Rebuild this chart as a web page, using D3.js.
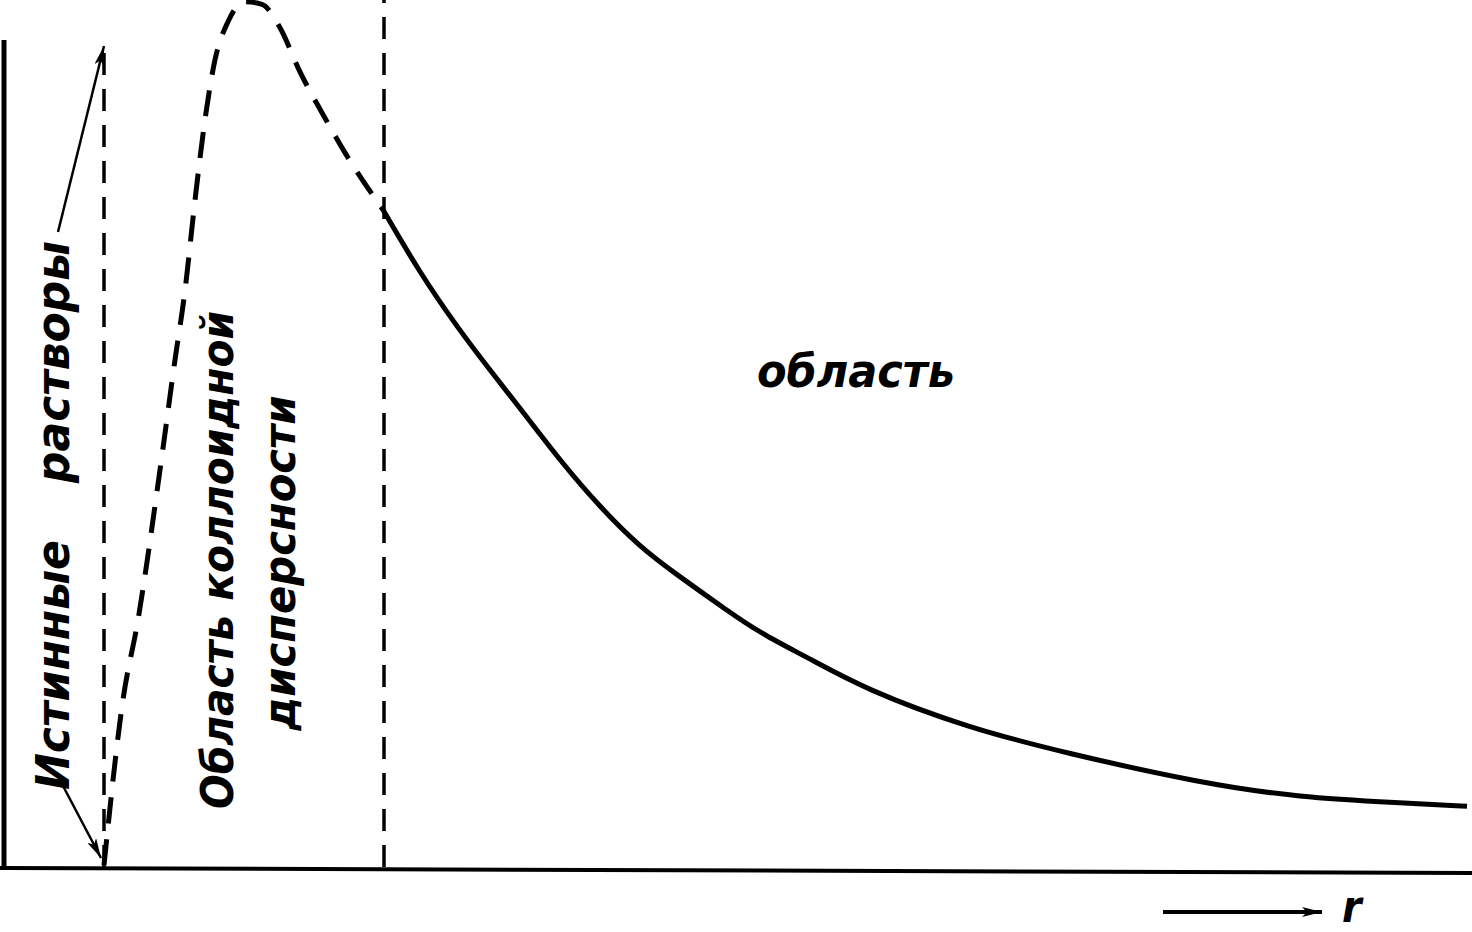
<!DOCTYPE html>
<html>
<head>
<meta charset="utf-8">
<script src="https://cdn.jsdelivr.net/npm/d3@7"></script>
<style>
  html, body { margin: 0; padding: 0; background: #fff; }
  svg { display: block; }
  .lbl { font-family: "DejaVu Sans Condensed", "DejaVu Sans", sans-serif; font-weight: bold; font-style: italic; fill: #000; }
</style>
</head>
<body>
<div id="chart"></div>
<script>
// curve: r (arbitrary units), relative value
const curveR = [0.99, 1.18, 1.33, 1.55, 1.70, 1.80, 1.90, 2.00, 2.10, 2.23, 2.40, 2.57, 2.75, 2.95, 3.17, 3.41, 3.78,
                4.15, 4.52, 4.85, 5.22, 5.55, 5.95, 6.35, 6.72, 7.22, 7.55, 8.02, 8.62, 9.62, 10.62, 11.95, 12.95, 13.95, 14.62];
const curveV = [0.002, 0.193, 0.285, 0.458, 0.585, 0.665, 0.769, 0.862, 0.931, 0.975, 0.998, 0.995, 0.968, 0.917, 0.870, 0.822, 0.758,
                0.685, 0.623, 0.573, 0.519, 0.469, 0.415, 0.369, 0.337, 0.296, 0.270, 0.242, 0.204, 0.161, 0.131, 0.097, 0.080, 0.074, 0.070];

// region boundaries (dashed verticals)
const boundaryR = [0.99, 3.79];
const boundaryTop = [0.948, 1.0];

const regionLabels = ['Истинные', 'растворы', 'Область коллоидной', 'дисперсности', 'область'];
const axisLabel = 'r';

const W = 1472, H = 932;
const svg = d3.select('#chart').append('svg').attr('width', W).attr('height', H);

const x = d3.scaleLinear().domain([0, 14.67]).range([5, 1472]);
const y = d3.scaleLinear().domain([0, 1]).range([867, 0]);

// arrow marker
const defs = svg.append('defs');
defs.append('marker')
    .attr('id', 'arr')
    .attr('viewBox', '0 0 20 10')
    .attr('refX', 20).attr('refY', 5)
    .attr('markerWidth', 20).attr('markerHeight', 10)
    .attr('markerUnits', 'userSpaceOnUse')
    .attr('orient', 'auto')
    .append('path')
    .attr('d', 'M0,0 L20,5 L0,10 L5,5 Z')
    .attr('fill', '#000');

// axes (frame lines only)
svg.append('line')
    .attr('x1', x(0) - 1).attr('x2', x(0) - 1)
    .attr('y1', y(0)).attr('y2', y(0.954))
    .attr('stroke', '#000').attr('stroke-width', 5);

svg.append('line')
    .attr('x1', 0).attr('x2', W)
    .attr('y1', y(0) + 1).attr('y2', y(0) + 6)
    .attr('stroke', '#000').attr('stroke-width', 4);

// dashed boundaries
svg.selectAll('.bound')
    .data(boundaryR)
    .enter()
    .append('line')
    .attr('class', 'bound')
    .attr('x1', d => x(d)).attr('x2', d => x(d))
    .attr('y1', y(0)).attr('y2', (d, i) => y(boundaryTop[i]))
    .attr('stroke', '#000')
    .attr('stroke-width', 3.5)
    .attr('stroke-dasharray', '22,14');

// curve: dashed inside the colloid region, solid beyond it
const pts = curveR.map((r, i) => ({ r, v: curveV[i] }));
const k = pts.findIndex(d => d.r >= boundaryR[1] - 0.02);
const dashedPts = pts.slice(0, k + 1);
const solidPts = pts.slice(k);

const line = d3.line()
    .x(d => x(d.r))
    .y(d => y(d.v))
    .curve(d3.curveMonotoneX);

// smoother for the long tail
const tail = d3.line()
    .x(d => x(d.r))
    .y(d => y(d.v))
    .curve(d3.curveBasis);

svg.append('path')
    .datum(dashedPts)
    .attr('d', line)
    .attr('fill', 'none')
    .attr('stroke', '#000')
    .attr('stroke-width', 5)
    .attr('stroke-dasharray', '26,16');

svg.append('path')
    .datum(solidPts)
    .attr('d', tail)
    .attr('fill', 'none')
    .attr('stroke', '#000')
    .attr('stroke-width', 5);

// rotated labels
function vlabel(text, cx, cy, len, size) {
    svg.append('text')
        .attr('class', 'lbl')
        .attr('transform', `translate(${cx},${cy}) rotate(-90)`)
        .attr('text-anchor', 'middle')
        .attr('dominant-baseline', 'central')
        .attr('textLength', len)
        .attr('lengthAdjust', 'spacingAndGlyphs')
        .style('font-size', size + 'px')
        .text(text);
}
vlabel(regionLabels[0], 53, 665, 250, 46);
vlabel(regionLabels[1], 53, 362, 242, 46);
vlabel(regionLabels[2], 217, 560, 498, 44);
vlabel(regionLabels[3], 279, 563, 335, 44);

svg.append('text')
    .attr('class', 'lbl')
    .attr('x', 757).attr('y', 387)
    .attr('textLength', 198)
    .attr('lengthAdjust', 'spacingAndGlyphs')
    .style('font-size', '46px')
    .text(regionLabels[4]);

// pointer arrows from the true-solution label
svg.append('line')
    .attr('x1', 58).attr('y1', 232).attr('x2', 104).attr('y2', 46)
    .attr('stroke', '#000').attr('stroke-width', 2.5)
    .attr('marker-end', 'url(#arr)');
svg.append('line')
    .attr('x1', 62).attr('y1', 784).attr('x2', 101).attr('y2', 858)
    .attr('stroke', '#000').attr('stroke-width', 2.5)
    .attr('marker-end', 'url(#arr)');

// r direction arrow
svg.append('line')
    .attr('x1', 1163).attr('y1', 912).attr('x2', 1322).attr('y2', 912)
    .attr('stroke', '#000').attr('stroke-width', 4)
    .attr('marker-end', 'url(#arr)');
svg.append('text')
    .attr('class', 'lbl')
    .attr('x', 1342).attr('y', 922)
    .style('font-size', '44px')
    .text(axisLabel);
</script>
</body>
</html>
